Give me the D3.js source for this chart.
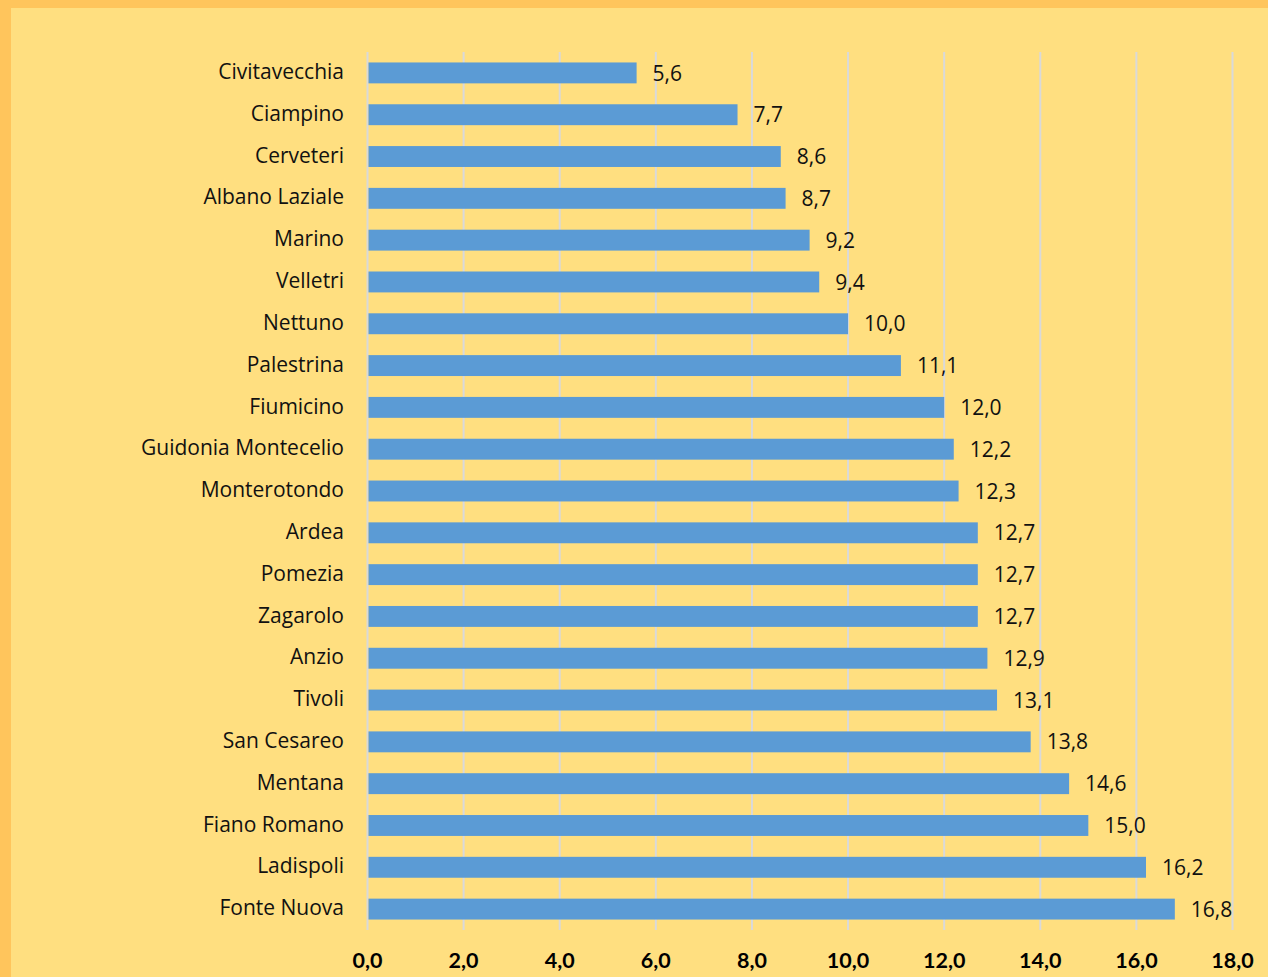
<!DOCTYPE html>
<html>
<head>
<meta charset="utf-8">
<script src="https://cdn.jsdelivr.net/npm/d3@7"></script>
<style>
  html, body { margin: 0; padding: 0; background: #FFC55C; }
  svg { display: block; }
</style>
</head>
<body>
<svg id="chart" width="1268" height="977"></svg>
<script>
// Comuni, ordered top to bottom
const comuni = [
  "Civitavecchia", "Ciampino", "Cerveteri", "Albano Laziale", "Marino",
  "Velletri", "Nettuno", "Palestrina", "Fiumicino", "Guidonia Montecelio",
  "Monterotondo", "Ardea", "Pomezia", "Zagarolo", "Anzio", "Tivoli",
  "San Cesareo", "Mentana", "Fiano Romano", "Ladispoli", "Fonte Nuova"
];
const valori = [
  5.6, 7.7, 8.6, 8.7, 9.2,
  9.4, 10.0, 11.1, 12.0, 12.2,
  12.3, 12.7, 12.7, 12.7, 12.9, 13.1,
  13.8, 14.6, 15.0, 16.2, 16.8
];
const tickValues = [0, 2, 4, 6, 8, 10, 12, 14, 16, 18];

const W = 1268, H = 977;
const svg = d3.select("#chart");

// Orange frame with the pale yellow panel inside
svg.append("rect").attr("x", 0).attr("y", 0).attr("width", W).attr("height", H).attr("fill", "#FFC55C");
svg.append("rect").attr("x", 11).attr("y", 8).attr("width", W - 11).attr("height", H - 8).attr("fill", "#FFDF80");

const margin = { left: 367.5, right: 35.5, top: 52, bottom: 47 };
const x = d3.scaleLinear().domain([0, 18]).range([margin.left, W - margin.right]);
const y = d3.scaleBand().domain(comuni).range([margin.top, H - margin.bottom]).paddingInner(0.5).paddingOuter(0.25);

const font = "'Open Sans', Lato, sans-serif";
const boldFont = "Lato, 'Open Sans', sans-serif";

// Vertical gridlines
svg.append("g").selectAll("line").data(tickValues).join("line")
  .attr("x1", d => x(d)).attr("x2", d => x(d))
  .attr("y1", margin.top).attr("y2", H - margin.bottom)
  .attr("stroke", "#D9D9D9").attr("stroke-width", 2);

// Bars
svg.append("g").selectAll("rect").data(comuni).join("rect")
  .attr("x", x(0) + 1)
  .attr("y", d => y(d))
  .attr("width", (d, i) => x(valori[i]) - x(0) - 1)
  .attr("height", y.bandwidth())
  .attr("fill", "#5B9BD5");

// Value labels
svg.append("g").selectAll("text").data(comuni).join("text")
  .attr("x", (d, i) => x(valori[i]) + 16)
  .attr("y", d => y(d) + y.bandwidth() / 2 + 2)
  .attr("dominant-baseline", "middle")
  .attr("font-family", font).attr("font-size", 21).attr("fill", "#111")
  .text((d, i) => valori[i].toFixed(1).replace(".", ","));

// Category axis labels
svg.append("g").selectAll("text").data(comuni).join("text")
  .attr("x", 344)
  .attr("y", d => y(d) + y.bandwidth() / 2 + 0.5)
  .attr("dominant-baseline", "middle")
  .attr("text-anchor", "end")
  .attr("font-family", font).attr("font-size", 21).attr("fill", "#111")
  .text(d => d);

// Value axis tick labels
svg.append("g").selectAll("text").data(tickValues).join("text")
  .attr("x", d => x(d))
  .attr("y", 962)
  .attr("dominant-baseline", "middle")
  .attr("text-anchor", "middle")
  .attr("font-family", boldFont).attr("font-size", 21.5).attr("font-weight", "bold").attr("fill", "#000")
  .text(d => d.toFixed(1).replace(".", ","));
</script>
</body>
</html>
